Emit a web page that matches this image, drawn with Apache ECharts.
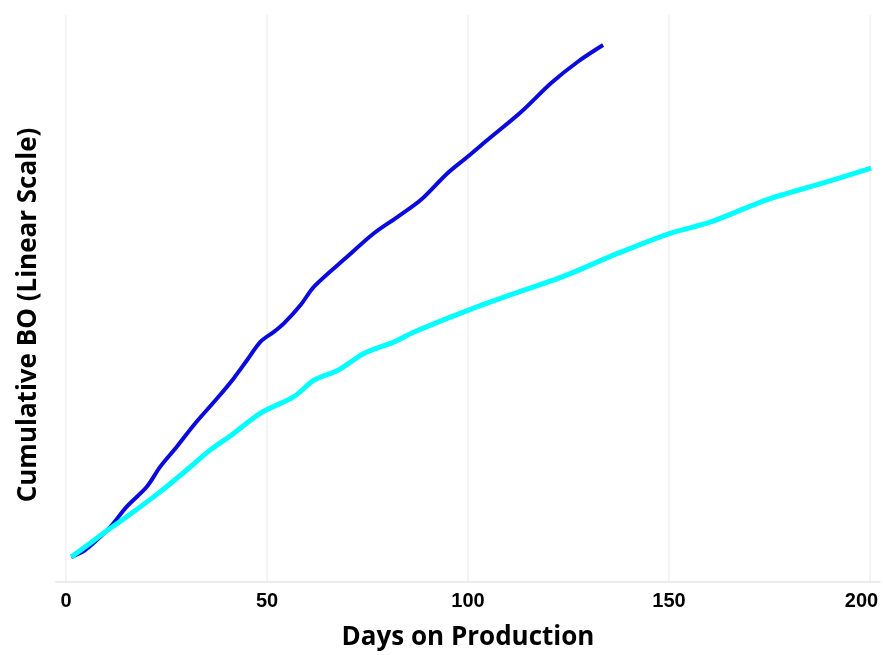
<!DOCTYPE html>
<html>
<head>
<meta charset="utf-8">
<script src="https://cdn.jsdelivr.net/npm/echarts@6/dist/echarts.min.js"></script>
<style>html,body{margin:0;padding:0;background:#fff}#c{width:883px;height:655px}</style>
</head>
<body>
<div id="c"></div>
<script>
var xTicks = [0, 50, 100, 150, 200];
var yTitle = 'Cumulative BO (Linear Scale)';
var xTitle = 'Days on Production';
var blueDays = [1.3,4.7,7.2,11,15.1,20.1,23.4,27.6,31.8,37.6,41.7,45.1,48.4,51.7,54.2,58.4,61.7,70,76.6,82.5,88.3,94.9,99.9,104.9,113.2,120.7,127.4,133.6];
var blueBO   = [4.4,5.6,7.1,9.7,13.3,16.8,20.3,23.9,27.7,32.4,35.9,39.2,42.4,44.1,45.6,48.9,52.1,57.4,61.5,64.4,67.4,72.1,75.0,78.0,82.9,88.0,91.8,94.7];
var cyanDays = [1.3,4.8,9.3,15.1,23.4,30.1,35.9,41.7,48.4,56.7,61.7,67.8,74.1,81.8,86.6,100.3,111.6,123.4,137.4,150.3,160.4,174.3,188.0,200.3];
var cyanBO   = [4.4,6.2,8.6,11.5,15.9,19.8,23.3,26.2,29.8,32.7,35.6,37.4,40.3,42.4,44.1,48.0,50.9,53.8,58.0,61.5,63.5,67.4,70.3,73.0];

function pairs(xs, ys){ return xs.map(function(x,i){ return [x, ys[i]]; }); }
var lastTick = xTicks[xTicks.length - 1];

var chart = echarts.init(document.getElementById('c'));
chart.setOption({
  animation: false,
  backgroundColor: '#ffffff',
  grid: { left: 56, right: 3, top: 15, bottom: 73, outerBoundsMode: 'none', containLabel: false },
  graphic: [{
    type: 'text', x: 29, y: 315, rotation: Math.PI / 2,
    style: { text: yTitle, align: 'center', verticalAlign: 'middle',
      font: 'bold 26px "Open Sans"', fill: '#000' }
  }],
  xAxis: {
    type: 'value', min: -2.5, max: 202.5,
    name: xTitle, nameLocation: 'middle', nameGap: 43,
    nameTextStyle: { fontFamily: 'Open Sans', fontWeight: 'bold', fontSize: 26, color: '#000' },
    axisLine: { show: true, lineStyle: { color: '#ebebeb', width: 2 } },
    axisTick: { show: false, customValues: xTicks },
    axisLabel: {
      customValues: xTicks, margin: 9, fontFamily: 'Liberation Sans', fontWeight: 'bold', fontSize: 20, color: '#000',
      formatter: function (v) { return v === lastTick ? '{e|' + v + '}' : String(v); },
      rich: { e: { fontFamily: 'Liberation Sans', fontWeight: 'bold', fontSize: 20, color: '#000', padding: [0, 17, 0, 0] } }
    },
    splitLine: { show: true, lineStyle: { color: '#f0f0f0', width: 1.5 } }
  },
  yAxis: {
    type: 'value', min: 0, max: 100,
    axisLine: { show: false }, axisTick: { show: false }, axisLabel: { show: false },
    splitLine: { show: false }
  },
  series: [
    { type: 'line', data: pairs(cyanDays, cyanBO), showSymbol: false, smooth: 0.3,
      lineStyle: { color: '#00ffff', width: 5 } },
    { type: 'line', data: pairs(blueDays, blueBO), showSymbol: false, smooth: 0.3, z: 1,
      lineStyle: { color: '#0a0adc', width: 4 } }
  ]
});
</script>
</body>
</html>
